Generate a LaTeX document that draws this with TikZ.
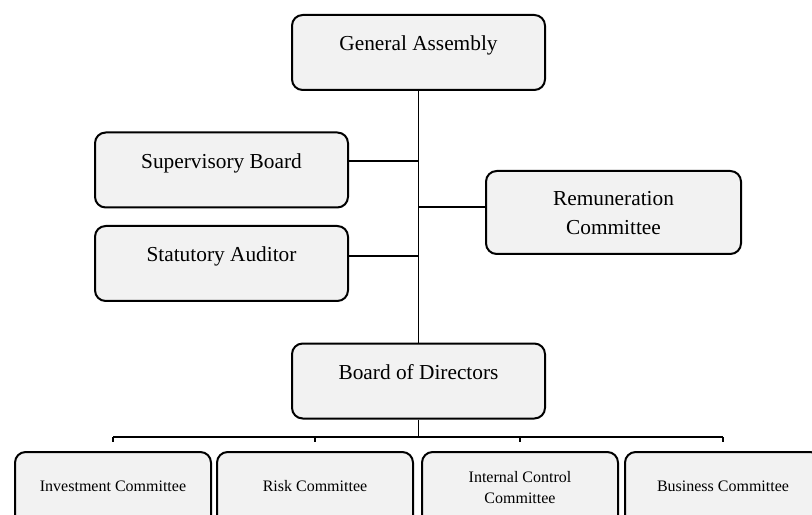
\documentclass[tikz,border=0pt]{standalone}
\usepackage{fontspec}
\setmainfont{Liberation Serif}

\definecolor{boxgray}{HTML}{F2F2F2}
\tikzset{
  orgbox/.style={draw, line width=1.5pt, rounded corners=8pt, fill=boxgray, inner sep=0pt, align=center},
  topbox/.style={orgbox, minimum width=189.75pt, text height=27pt, text depth=29.25pt, font=\fontsize{16}{21.75}\selectfont},
  cmtbox/.style={orgbox, minimum width=147pt, text height=29.25pt, text depth=30.75pt, font=\fontsize{12}{15.75}\selectfont},
  link/.style={line width=1.3pt}
}

\begin{document}
\begin{tikzpicture}[x=0.75pt,y=0.75pt]
\clip (0,0) rectangle (812,514);
\node[topbox] (ga) at (418.5,461.5) {General Assembly};
\node[topbox] (sb) at (221.5,344) {Supervisory Board};
\node[topbox] (sa) at (221.5,250.5) {Statutory Auditor};
\node[topbox, minimum width=191.25pt, text height=48pt, text depth=14.25pt] (rc) at (613.5,301.5) {Remuneration\\Committee};
\node[topbox] (bod) at (418.5,133) {Board of Directors};
\node[cmtbox] (inv) at (113,22) {Investment Committee};
\node[cmtbox] (risk) at (315,22) {Risk Committee};
\node[cmtbox, text height=38.25pt, text depth=21.75pt] (ic) at (520,22) {Internal Control\\Committee};
\node[cmtbox] (biz) at (723,22) {Business Committee};
% trunk
\draw[link] (ga) -- (bod);
\coordinate (sb-out) at ([yshift=6.75pt]sb.east);
\coordinate (sa-out) at ([yshift=5.6pt]sa.east);
\coordinate (rc-out) at ([yshift=4.1pt]rc.west);
\draw[link] (sb-out) -- (sb-out -| ga.south);
\draw[link] (sa-out) -- (sa-out -| ga.south);
\draw[link] (rc-out) -- (rc-out -| ga.south);
% committees
\coordinate (bus) at (418.5,77);
\draw[link] (bod) -- (bus);
\draw[link] (bus -| inv.north) -- (bus -| biz.north);
\foreach \c in {inv,risk,ic,biz}
  \draw[link] (bus -| \c.north) -- ([yshift=6.75pt]\c.north);
\end{tikzpicture}
\end{document}
